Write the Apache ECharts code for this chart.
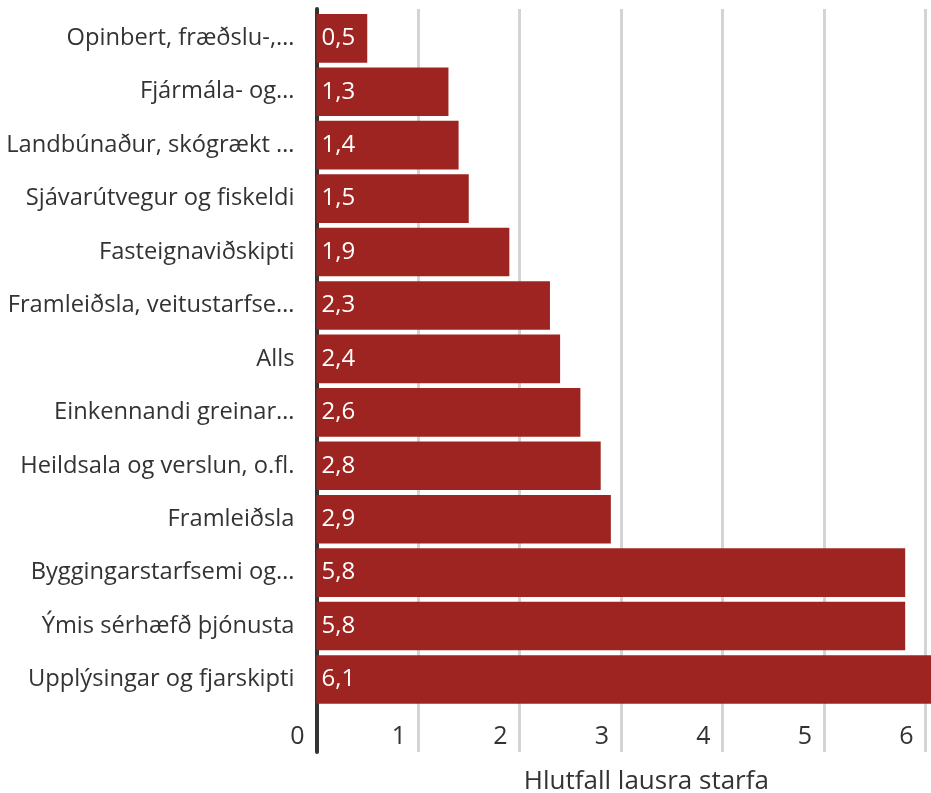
<!DOCTYPE html>
<html>
<head>
<meta charset="utf-8">
<script src="https://cdn.jsdelivr.net/npm/echarts@6/dist/echarts.min.js"></script>
<style>
    html, body { margin: 0; padding: 0; background: #fff; }
    #main { width: 931px; height: 793px; }
</style>
</head>
<body>
<div id="main"></div>
<script>
// atvinnugreinar, efst til neðst
var flokkar = [
    'Opinbert, fræðslu-,…',
    'Fjármála- og…',
    'Landbúnaður, skógrækt …',
    'Sjávarútvegur og fiskeldi',
    'Fasteignaviðskipti',
    'Framleiðsla, veitustarfse…',
    'Alls',
    'Einkennandi greinar…',
    'Heildsala og verslun, o.fl.',
    'Framleiðsla',
    'Byggingarstarfsemi og…',
    'Ýmis sérhæfð þjónusta',
    'Upplýsingar og fjarskipti'
];
var hlutfall = [0.5, 1.3, 1.4, 1.5, 1.9, 2.3, 2.4, 2.6, 2.8, 2.9, 5.8, 5.8, 6.1];
var xMax = 6.5;

var letur = '"Open Sans", Roboto, sans-serif';
var vinstri = 316.5;
var haegri = 931 - (vinstri + xMax * 101.5);

var option = {
    animation: false,
    backgroundColor: '#fff',
    textStyle: { fontFamily: letur },
    grid: [
        // súlur
        { left: vinstri, right: haegri, top: 11.6, height: 694.6, outerBoundsMode: 'none', containLabel: false },
        // rammi, hnitalínur
        { left: vinstri, right: haegri, top: 9, bottom: 41, outerBoundsMode: 'none', containLabel: false }
    ],
    xAxis: [
        { gridIndex: 0, type: 'value', min: 0, max: xMax, interval: 1, show: false },
        {
            gridIndex: 1, type: 'value', min: 0, max: xMax, interval: 1,
            name: 'Hlutfall lausra starfa',
            nameLocation: 'middle',
            nameGap: 17,
            nameTextStyle: { fontSize: 26, color: '#333', fontFamily: letur },
            axisLine: { show: false },
            axisTick: { show: false },
            axisLabel: {
                inside: true,
                margin: 3,
                align: 'right',
                padding: [0, 12, 0, 0],
                fontSize: 25,
                color: '#333',
                fontFamily: letur,
                formatter: function (v) { return v % 1 === 0 ? String(v) : ''; }
            },
            splitLine: { show: true, lineStyle: { color: '#d4d4d4', width: 3 } }
        }
    ],
    yAxis: [
        {
            gridIndex: 0, type: 'category', inverse: true, data: flokkar,
            axisLine: { show: false },
            axisTick: { show: false },
            axisLabel: { margin: 22, fontSize: 23.7, color: '#333', fontFamily: letur }
        },
        {
            gridIndex: 1, type: 'value', offset: 1.5,
            axisLine: { show: true, lineStyle: { color: '#333', width: 4 } },
            axisTick: { show: false },
            axisLabel: { show: false },
            splitLine: { show: false }
        }
    ],
    series: [{
        type: 'bar',
        xAxisIndex: 0,
        yAxisIndex: 0,
        data: hlutfall,
        barCategoryGap: '9%',
        itemStyle: { color: '#9e2421' },
        label: {
            show: true,
            position: 'insideLeft',
            distance: 5,
            color: '#fff',
            fontSize: 24,
            fontFamily: letur,
            formatter: function (p) { return p.value.toFixed(1).replace('.', ','); }
        }
    }]
};

var myChart = echarts.init(document.getElementById('main'));
myChart.setOption(option);
</script>
</body>
</html>
